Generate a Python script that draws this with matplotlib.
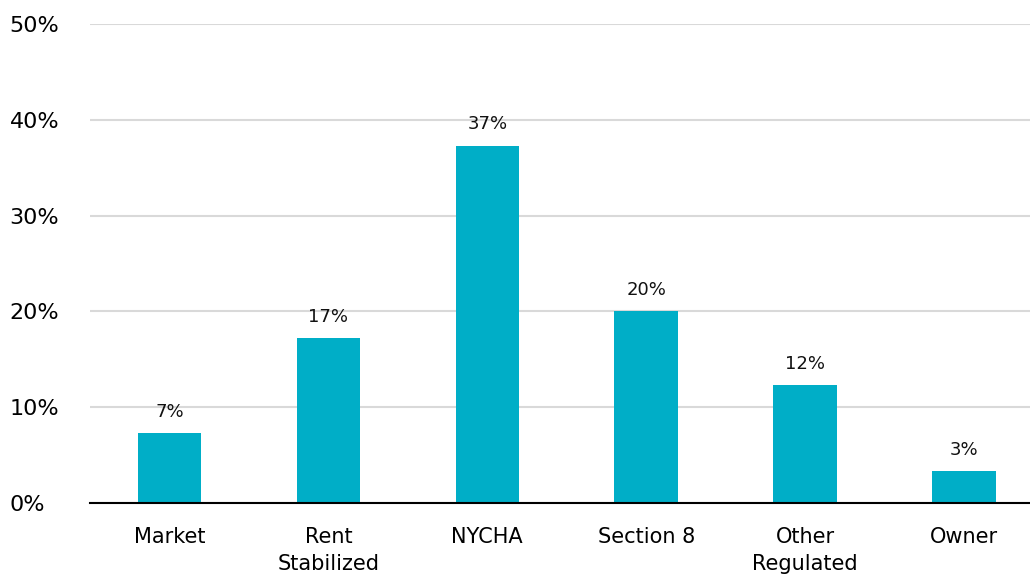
import matplotlib.pyplot as plt
from matplotlib.ticker import FuncFormatter

categories = ["Market", "Rent\nStabilized", "NYCHA", "Section 8", "Other\nRegulated", "Owner"]
shares = [7.3, 17.2, 37.3, 20.0, 12.3, 3.3]

bar_color = "#00AEC7"

plt.rcParams["font.family"] = ["DejaVu Sans"]

fig = plt.figure(figsize=(10.3, 5.77), dpi=100)
ax = fig.add_axes([90 / 1030, 74 / 577, 1 - 90 / 1030, 479 / 577])

x = range(len(categories))
bars = ax.bar(x, shares, width=0.4, color=bar_color, zorder=3)

for rect, val in zip(bars, shares):
    ax.annotate(f"{val:.0f}%", (rect.get_x() + rect.get_width() / 2, val),
                xytext=(0, 9), textcoords="offset points",
                ha="center", va="bottom", fontsize=13, color="#111111")

ax.set_ylim(0, 50)
ax.set_yticks([0, 10, 20, 30, 40, 50])
ax.yaxis.set_major_formatter(FuncFormatter(lambda v, _: f"{v:.0f}%"))
ax.set_xlim(-0.5, 5.415)
ax.set_xticks(list(x))
ax.set_xticklabels(categories, fontsize=15, linespacing=1.45)

ax.tick_params(axis="y", length=0, pad=58, labelsize=16)
ax.tick_params(axis="x", length=0, pad=17)
for lbl in ax.get_yticklabels():
    lbl.set_horizontalalignment("left")

ax.grid(axis="y", color="#D9D9D9", linewidth=1.5, zorder=0)
for side in ["top", "right", "left"]:
    ax.spines[side].set_visible(False)
ax.spines["bottom"].set_color("black")
ax.spines["bottom"].set_linewidth(1.5)
ax.spines["bottom"].set_zorder(4)

fig.savefig("out.png", dpi=100)
